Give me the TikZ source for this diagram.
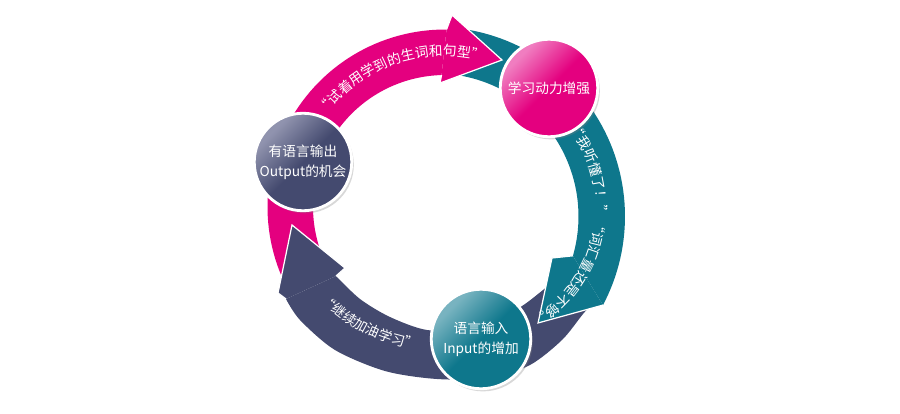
\documentclass[tikz,border=0pt]{standalone}
\usepackage{fontspec}
\newfontfamily\cjk{Noto Sans CJK SC}
\usepackage{tikz}
\usetikzlibrary{calc}
\usetikzlibrary{shadows}
\usetikzlibrary{decorations.text}

\definecolor{magentaarc}{HTML}{E4007F}
\definecolor{tealarc}{HTML}{0E778C}
\definecolor{navyarc}{HTML}{444A6F}
\definecolor{magentalight}{HTML}{F07DC0}
\definecolor{teallight}{HTML}{78B3C0}
\definecolor{navylight}{HTML}{9093AE}

\pgfdeclareverticalshading{navygloss}{100bp}{color(0bp)=(navyarc); color(50bp)=(navyarc); color(72bp)=(navylight); color(100bp)=(navylight)}
\pgfdeclareverticalshading{magentagloss}{100bp}{color(0bp)=(magentaarc); color(50bp)=(magentaarc); color(72bp)=(magentalight); color(100bp)=(magentalight)}
\pgfdeclareverticalshading{tealgloss}{100bp}{color(0bp)=(tealarc); color(50bp)=(tealarc); color(72bp)=(teallight); color(100bp)=(teallight)}

\tikzset{
  bubble/.style={circle, draw=white, line width=1.6pt, minimum size=1.95cm, inner sep=0pt,
    align=center, text=white, font=\cjk\fontsize{7.8}{11.5}\selectfont, shading angle=45,
    drop shadow={opacity=0.3, shadow xshift=1.2pt, shadow yshift=-1.5pt}},
  headline/.style={draw=white, line width=0.7pt, line join=miter},
  arclabel/.style={decorate, decoration={text along path, text align=center, text color=white,
    text={|\cjk\fontsize{7.8}{9}\selectfont|#1}}}
}

\begin{document}
\begin{tikzpicture}[x=0.02cm, y=-0.02cm]
\fill[white] (0,0) rectangle (900,413);
\useasboundingbox (0,0) rectangle (900,413);

\coordinate (pc) at (445,207);
\coordinate (tc) at (435.5,216.4);

\fill[navyarc] plot[smooth] coordinates {(594,302) (583,314) (562,340) (530,365) (490,378) (437,379) (385,371) (335,350) (300,320) (286,299)}
  -- plot[smooth] coordinates {(336,276) (360,299) (390,317) (427,330) (470,329) (505,316) (525,304) (543,290) (560,276)} -- cycle;
\fill[tealarc] plot[domain=277:387.9, samples=60] ({435.5+189.5*cos(\x)}, {216.4+189.5*sin(\x)})
  -- plot[domain=-376:-277, samples=60] ({435.5+143*cos(-\x)}, {216.4+143*sin(-\x)}) -- cycle;
\fill[magentaarc] plot[domain=153:270.5, samples=60] ({445+177.5*cos(\x)}, {207+177.5*sin(\x)})
  -- plot[domain=-268.5:-153, samples=60] ({445+132*cos(-\x)}, {207+132*sin(-\x)}) -- cycle;

\coordinate (n-ob) at (286,299);
\coordinate (n-barb1) at (278,293);
\coordinate (n-tip) at (292,225);
\coordinate (n-barb2) at (345,268);
\coordinate (n-ib) at (336,276);
\fill[navyarc] (n-ob) -- (n-barb1) -- (n-tip) -- (n-barb2) -- (n-ib) -- cycle;
\draw[headline] (n-ob) -- (n-barb1) -- (n-tip) -- (n-barb2) -- (n-ib);

\coordinate (t-ob) at ($(tc)+(387.9:189.5)$);
\coordinate (t-tip) at ($(tc)+(406.1:147.9)$);
\coordinate (t-barb) at ($(tc)+(379.65:123.7)$);
\coordinate (t-ib) at ($(tc)+(376:143)$);
\fill[tealarc] (t-ob) -- (t-tip) -- (t-barb) -- (t-ib) -- cycle;
\draw[headline] (t-ob) -- (t-tip) -- (t-barb) -- (t-ib);

\coordinate (p-ob) at ($(pc)+(270.5:177.5)$);
\coordinate (p-barb1) at ($(pc)+(272.1:192.1)$);
\coordinate (p-tip) at ($(pc)+(291.2:157.7)$);
\coordinate (p-barb2) at ($(pc)+(267.7:124.1)$);
\coordinate (p-ib) at ($(pc)+(268.5:132)$);
\fill[magentaarc] (p-ob) -- (p-barb1) -- (p-tip) -- (p-barb2) -- (p-ib) -- cycle;
\draw[headline] (p-ob) -- (p-barb1) -- (p-tip) -- (p-barb2) -- (p-ib);

\path[arclabel={“试着用学到的生词和句型”}] plot[domain=215:287, samples=50] ({445+151*cos(\x)}, {207+151*sin(\x)});
\path[arclabel={“我听懂了！”“词汇量还是不够。}] plot[domain=322:420, samples=60] ({467+129*cos(\x)}, {207+129*sin(\x)});
\path[arclabel={“继续加油学习”}] plot[domain=-140:-92, samples=40] ({446+185*cos(-\x)}, {166.5+185*sin(-\x)});

\node[bubble, shading=navygloss] (output) at (303,162) {有语言输出\\Output的机会};
\node[bubble, shading=magentagloss] (motive) at (549,88) {学习动力增强};
\node[bubble, minimum size=1.99cm, shading=tealgloss] (input) at (481,339) {语言输入\\Input的增加};
\end{tikzpicture}
\end{document}
